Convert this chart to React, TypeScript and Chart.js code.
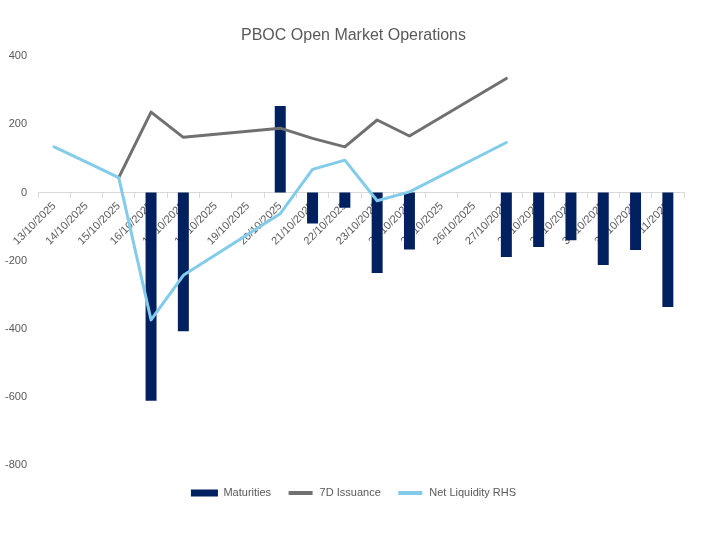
import React, { useEffect, useRef } from "react";
import { Chart, registerables } from "chart.js";

Chart.register(...registerables);

const categories = [
  "13/10/2025", "14/10/2025", "15/10/2025", "16/10/2025", "17/10/2025",
  "18/10/2025", "19/10/2025", "20/10/2025", "21/10/2025", "22/10/2025",
  "23/10/2025", "24/10/2025", "25/10/2025", "26/10/2025", "27/10/2025",
  "28/10/2025", "29/10/2025", "30/10/2025", "31/10/2025", "1/11/2025",
];

const maturities = [
  null, null, null, -611, -407, null, null, 254, -91, -45,
  -236, -167, null, null, -189, -160, -140, -213, -169, -336,
];

const issuance7D = [
  null, null, 44, 236, 162, null, null, 189, 159, 134,
  213, 166, null, null, 335, null, null, null, null, null,
];

const netLiquidity = [
  134, 89, 44, -374, -243, null, null, -62, 68, 95,
  -24, 2, null, null, 147, null, null, null, null, null,
];

const yTicks = { min: -800, max: 400, step: 200 };

const NAVY = "#002060";
const GRAY = "#707070";
const LIGHT = "#83CBEB";
const TEXT = "#595959";

export default function App() {
  const ref = useRef<HTMLCanvasElement | null>(null);

  useEffect(() => {
    if (!ref.current) return;
    Chart.defaults.font.family = "'Liberation Sans', Arial, sans-serif";
    const chart = new Chart(ref.current, {
      type: "bar",
      data: {
        labels: categories,
        datasets: [
          {
            type: "bar",
            label: "Maturities",
            data: maturities,
            backgroundColor: NAVY,
            borderWidth: 0,
            barPercentage: 0.34,
            categoryPercentage: 1,
            order: 3,
          },
          {
            type: "line",
            label: "7D Issuance",
            data: issuance7D,
            borderColor: GRAY,
            backgroundColor: GRAY,
            borderWidth: 3,
            pointRadius: 0,
            tension: 0,
            spanGaps: true,
            borderJoinStyle: "round",
            borderCapStyle: "round",
            order: 2,
          },
          {
            type: "line",
            label: "Net Liquidity RHS",
            data: netLiquidity,
            borderColor: LIGHT,
            backgroundColor: LIGHT,
            borderWidth: 3,
            pointRadius: 0,
            tension: 0,
            spanGaps: true,
            borderJoinStyle: "round",
            borderCapStyle: "round",
            order: 1,
          },
        ],
      } as any,
      options: {
        responsive: false,
        animation: false,
        layout: { padding: { left: 0, right: 0, top: 0, bottom: 44.5 } },
        plugins: {
          tooltip: { enabled: false },
          title: {
            display: true,
            text: "PBOC Open Market Operations",
            color: TEXT,
            font: { size: 16, weight: "normal" },
            padding: { top: 25.5, bottom: 11.6 },
          },
          legend: {
            position: "bottom",
            title: {
              display: true,
              text: "",
              font: { size: 1 },
              padding: { top: 5.3, bottom: 0 },
            } as any,
            labels: {
              boxWidth: 27,
              boxHeight: 7,
              padding: 16,
              color: TEXT,
              font: { size: 11 },
              sort: (a: any, b: any) => a.datasetIndex - b.datasetIndex,
              generateLabels: (c: any) => {
                const items = (Chart.defaults.plugins.legend.labels as any).generateLabels(c);
                items.forEach((it: any) => {
                  const ds = c.data.datasets[it.datasetIndex];
                  if (ds.type === "line") {
                    it.fillStyle = ds.borderColor;
                    it.strokeStyle = "#ffffff";
                    it.lineWidth = 3;
                  } else {
                    it.fillStyle = ds.backgroundColor;
                    it.strokeStyle = ds.backgroundColor;
                    it.lineWidth = 0;
                  }
                });
                return items;
              },
            },
          },
        },
        scales: {
          x: {
            type: "category",
            position: { y: 0 } as any,
            offset: true,
            grid: {
              offset: true,
              drawOnChartArea: false,
              drawTicks: true,
              tickLength: 5,
              color: "#d9d9d9",
            },
            border: { color: "#d9d9d9", width: 1 },
            ticks: {
              autoSkip: false,
              minRotation: 45,
              maxRotation: 45,
              color: TEXT,
              font: { size: 11 },
              padding: 2,
            },
          },
          y: {
            min: yTicks.min,
            max: yTicks.max,
            grid: { display: false, drawTicks: false },
            border: { display: false },
            ticks: {
              stepSize: yTicks.step,
              color: TEXT,
              font: { size: 11 },
              padding: 11,
            },
            afterFit: (s: any) => {
              s.width = 38;
            },
          },
          y2: {
            position: "right",
            display: true,
            grid: { display: false, drawTicks: false },
            border: { display: false },
            ticks: { display: false },
            afterFit: (s: any) => {
              s.width = 23;
            },
          },
        },
      } as any,
    });
    return () => chart.destroy();
  }, []);

  return (
    <div style={{ position: "fixed", left: 0, top: 0, width: 707, height: 553, background: "#fff" }}>
      <canvas ref={ref} width={707} height={553} style={{ display: "block" }} />
    </div>
  );
}
